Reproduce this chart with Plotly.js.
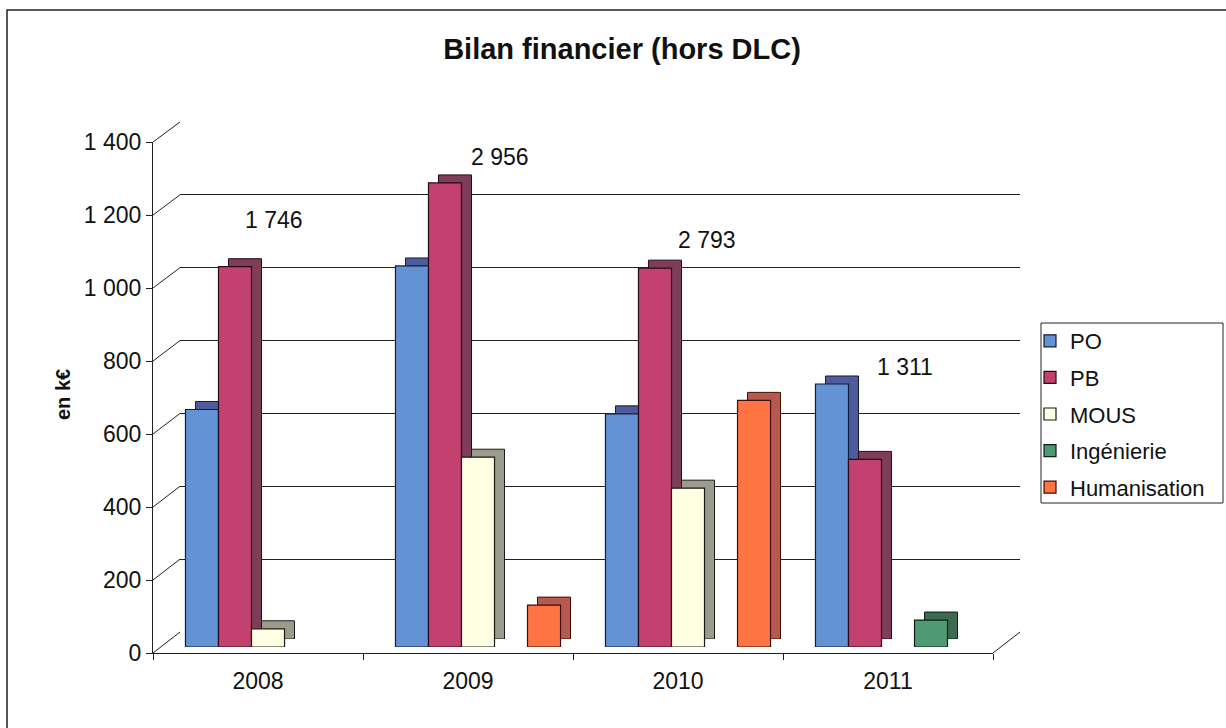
<!DOCTYPE html>
<html>
<head>
<meta charset="utf-8">
<script src="https://cdn.plot.ly/plotly-3.0.1.min.js"></script>
<style>html,body{margin:0;padding:0;background:#fff;}#chart{width:1226px;height:728px;}</style>
</head>
<body>
<div id="chart"></div>
<script>
// ---- Data ----
const categories = ['2008', '2009', '2010', '2011'];
const seriesNames = ['PO', 'PB', 'MOUS', 'Ingénierie', 'Humanisation'];
const PO = [652, 1046, 640, 722];
const PB = [1044, 1274, 1040, 515];
const MOUS = [50, 521, 436, null];
const Ingenierie = [null, null, null, 74];
const Humanisation = [null, 115, 677, null];
const yTicks = [0, 200, 400, 600, 800, 1000, 1200, 1400];

// ---- Styling ----
const frontColors = ['#6393D3', '#C2416F', '#FFFFE3', '#4F9A72', '#FF7443'];
const sideColors  = ['#4E5C9E', '#7E3E58', '#9C9C8C', '#3C6A52', '#B65A50'];
const edgeColors  = ['#141a3a', '#2a0a18', '#1a1a1a', '#0f1f15', '#3a0f05'];
const FONT = 'Liberation Sans, Arial, sans-serif';

const W = 1226, H = 728;
const px = v => v / W;
const py = v => 1 - v / H;
const YMAX = 1400;

// Domains (front axis, back wall, bar depth faces, bar front faces)
const domA = {x: [px(153), px(993)], y: [py(653), py(142)]};
const domB = {x: [px(180), px(1020)], y: [py(632), py(122)]};
const domC = {x: [px(173), px(1013)], y: [py(639), py(129)]};
const domD = {x: [px(163), px(1003)], y: [py(647), py(137)]};

const allSeries = [PO, PB, MOUS, Ingenierie, Humanisation];

const traces = [];
// anchor traces for the front axis and back wall subplots
traces.push({type: 'scatter', mode: 'none', x: categories, y: categories.map(() => null),
  xaxis: 'x', yaxis: 'y', showlegend: false, hoverinfo: 'skip'});
traces.push({type: 'scatter', mode: 'none', x: [], y: [], xaxis: 'x2', yaxis: 'y2',
  showlegend: false, hoverinfo: 'skip'});

// depth (side/top) faces
allSeries.forEach((s, i) => {
  traces.push({
    type: 'bar', x: categories, y: s, name: seriesNames[i], legendgroup: 'g' + i,
    xaxis: 'x3', yaxis: 'y3', showlegend: false, hoverinfo: 'skip',
    marker: {color: sideColors[i], line: {color: edgeColors[i], width: 1}}
  });
});
// front faces
allSeries.forEach((s, i) => {
  traces.push({
    type: 'bar', x: categories, y: s, name: seriesNames[i], legendgroup: 'g' + i,
    xaxis: 'x4', yaxis: 'y4',
    marker: {color: frontColors[i], line: {color: edgeColors[i], width: 1.2}}
  });
});

// totals per year
const totals = categories.map((c, k) => allSeries.reduce((a, s) => a + (s[k] || 0), 0));
const fmt = n => String(n).replace(/\B(?=(\d{3})+(?!\d))/g, ' ');
const totalLabelDX = [0.03, 0.105, 0.09, 0.035];
const totalLabelY = [1172, 1345, 1117, 769];
const annotations = categories.map((c, k) => ({
  xref: 'x4', yref: 'y4', x: k + totalLabelDX[k], y: totalLabelY[k],
  text: fmt(totals[k]), showarrow: false,
  font: {family: FONT, size: 23, color: '#111'}
}));
annotations.push({
  xref: 'paper', yref: 'paper', x: px(50), y: py(395), text: '<b>en k€</b>', textangle: -90,
  showarrow: false, font: {family: FONT, size: 20, color: '#111'}
});

// 3D connectors between front axis and back wall
const shapes = [];
const yFront = v => domA.y[0] + (domA.y[1] - domA.y[0]) * v / YMAX;
const yBack = v => domB.y[0] + (domB.y[1] - domB.y[0]) * v / YMAX;
yTicks.forEach(v => {
  shapes.push({type: 'line', xref: 'paper', yref: 'paper', x0: domA.x[0], y0: yFront(v),
    x1: domB.x[0], y1: yBack(v), line: {color: '#222', width: 1}});
});
shapes.push({type: 'line', xref: 'paper', yref: 'paper', x0: domA.x[1], y0: yFront(0),
  x1: domB.x[1], y1: yBack(0), line: {color: '#222', width: 1}});
// outer frame
shapes.push({type: 'rect', xref: 'paper', yref: 'paper', x0: px(7), y0: -0.05, x1: 1.05, y1: py(10),
  line: {color: '#222', width: 1.5}});
// legend frame
shapes.push({type: 'rect', xref: 'paper', yref: 'paper', x0: px(1041), y0: py(503), x1: px(1223), y1: py(323),
  line: {color: '#222', width: 1}, fillcolor: '#fff', layer: 'above'});

const tickFont = {family: FONT, size: 23, color: '#111'};
const hidden = {visible: false, fixedrange: true};

const layout = {
  width: W, height: H,
  margin: {l: 0, r: 0, t: 0, b: 0},
  paper_bgcolor: '#fff', plot_bgcolor: 'rgba(0,0,0,0)',
  separators: ', ',
  barmode: 'group', bargap: 0.214, bargroupgap: 0,
  showlegend: true,
  title: {text: '<b>Bilan financier (hors DLC)</b>', x: px(622), xanchor: 'center', y: py(49), yanchor: 'middle',
    font: {family: FONT, size: 29, color: '#111'}},
  legend: {x: px(1030), y: py(320), xanchor: 'left', yanchor: 'top',
    bgcolor: 'rgba(0,0,0,0)', borderwidth: 0,
    font: {family: FONT, size: 22, color: '#111'},
    itemclick: false, tracegroupgap: 5},
  xaxis: {domain: domA.x, anchor: 'y', type: 'category', categoryorder: 'array', categoryarray: categories,
    range: [-0.5, categories.length - 0.5], tickson: 'boundaries', ticks: 'outside', ticklen: 6,
    tickcolor: '#222', showline: true, linecolor: '#222', linewidth: 1, showgrid: false,
    tickfont: tickFont, ticklabelstandoff: 7, fixedrange: true},
  yaxis: {domain: domA.y, anchor: 'x', range: [0, YMAX], tickvals: yTicks, separatethousands: true,
    ticks: 'outside', ticklen: 6, tickcolor: '#222', showline: true, linecolor: '#222', linewidth: 1,
    showgrid: false, zeroline: false, tickfont: tickFont, fixedrange: true},
  xaxis2: {domain: domB.x, anchor: 'y2', range: [0, 1], showgrid: false, zeroline: false,
    showticklabels: false, ticks: '', showline: false, fixedrange: true},
  yaxis2: {domain: domB.y, anchor: 'x2', range: [0, YMAX], tickvals: yTicks, showgrid: true,
    gridcolor: '#222', gridwidth: 1, zeroline: false, showticklabels: false, ticks: '', showline: false,
    fixedrange: true},
  xaxis3: Object.assign({domain: domC.x, anchor: 'y3', type: 'category', categoryorder: 'array',
    categoryarray: categories, range: [-0.5, categories.length - 0.5]}, hidden),
  yaxis3: Object.assign({domain: domC.y, anchor: 'x3', range: [0, YMAX]}, hidden),
  xaxis4: Object.assign({domain: domD.x, anchor: 'y4', type: 'category', categoryorder: 'array',
    categoryarray: categories, range: [-0.5, categories.length - 0.5]}, hidden),
  yaxis4: Object.assign({domain: domD.y, anchor: 'x4', range: [0, YMAX]}, hidden),
  annotations: annotations,
  shapes: shapes
};

Plotly.newPlot('chart', traces, layout, {displayModeBar: false, staticPlot: true});
</script>
</body>
</html>
